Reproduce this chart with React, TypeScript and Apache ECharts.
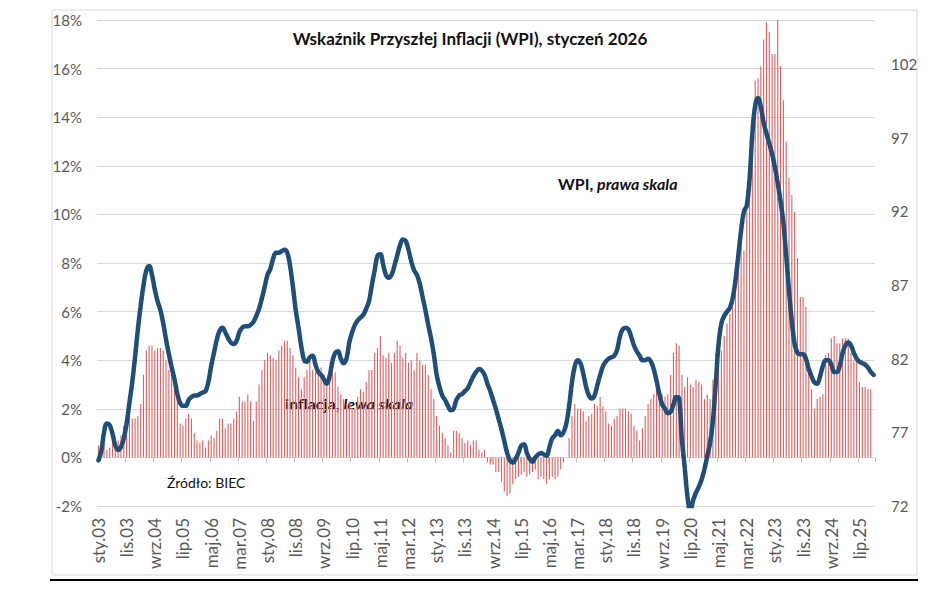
import { useEffect, useRef } from 'react';
import * as echarts from 'echarts';

// miesiące (etykiety osi X budowane z nich)
const MONTHS = ['sty', 'lut', 'mar', 'kwi', 'maj', 'cze', 'lip', 'sie', 'wrz', 'paź', 'lis', 'gru'];
const FIRST_YEAR = 2003;
const LAST_YEAR = 2025;

// inflacja CPI r/r, % (lewa skala), sty.03 - gru.25
const inflation = [
  0.5, 0.5, 0.6, 0.3, 0.4, 0.8, 0.8, 0.7, 0.9, 1.3, 1.6, 1.7, // 2003
  1.6, 1.6, 1.7, 2.2, 3.4, 4.4, 4.6, 4.6, 4.4, 4.5, 4.5, 4.4, // 2004
  4.0, 3.6, 3.4, 3.0, 2.5, 1.4, 1.3, 1.6, 1.8, 1.6, 1.0, 0.7, // 2005
  0.6, 0.7, 0.4, 0.7, 0.9, 0.8, 1.1, 1.6, 1.6, 1.2, 1.4, 1.4, // 2006
  1.6, 1.9, 2.5, 2.3, 2.3, 2.6, 2.3, 1.5, 2.3, 3.0, 3.6, 4.0, // 2007
  4.3, 4.2, 4.1, 4.0, 4.4, 4.6, 4.8, 4.8, 4.5, 4.2, 3.7, 3.3, // 2008
  2.8, 3.3, 3.6, 4.0, 3.6, 3.5, 3.6, 3.7, 3.4, 3.1, 3.3, 3.5, // 2009
  3.5, 2.9, 2.6, 2.4, 2.2, 2.3, 2.0, 2.0, 2.5, 2.8, 2.7, 3.1, // 2010
  3.6, 3.6, 4.3, 4.5, 5.0, 4.2, 4.1, 4.3, 3.9, 4.3, 4.8, 4.6, // 2011
  4.1, 4.3, 3.9, 4.0, 3.6, 4.3, 4.0, 3.8, 3.8, 3.4, 2.8, 2.4, // 2012
  1.7, 1.3, 1.0, 0.8, 0.5, 0.2, 1.1, 1.1, 1.0, 0.8, 0.6, 0.7, // 2013
  0.5, 0.7, 0.7, 0.3, 0.2, 0.3, -0.2, -0.3, -0.3, -0.6, -0.6, -1.0, // 2014
  -1.4, -1.6, -1.5, -1.1, -0.9, -0.8, -0.7, -0.6, -0.8, -0.7, -0.6, -0.5, // 2015
  -0.9, -0.8, -0.9, -1.1, -0.9, -0.8, -0.9, -0.8, -0.5, -0.2, 0.0, 0.8, // 2016
  1.7, 2.2, 2.0, 2.0, 1.9, 1.5, 1.7, 1.8, 2.2, 2.1, 2.5, 2.1, // 2017
  1.9, 1.4, 1.3, 1.6, 1.7, 2.0, 2.0, 2.0, 1.9, 1.8, 1.3, 1.1, // 2018
  0.7, 1.2, 1.7, 2.2, 2.4, 2.6, 2.9, 2.9, 2.6, 2.5, 2.6, 3.4, // 2019
  4.3, 4.7, 4.6, 3.4, 2.9, 3.3, 3.0, 2.9, 3.2, 3.1, 3.0, 2.4, // 2020
  2.6, 2.4, 3.2, 4.3, 4.7, 4.4, 5.0, 5.5, 5.9, 6.8, 7.8, 8.6, // 2021
  9.4, 8.5, 11.0, 12.4, 13.9, 15.5, 15.6, 16.1, 17.2, 17.9, 17.5, 16.6, // 2022
  16.6, 18.4, 16.1, 14.7, 13.0, 11.5, 10.8, 10.1, 8.2, 6.6, 6.6, 6.2, // 2023
  3.7, 2.8, 2.0, 2.4, 2.5, 2.6, 4.2, 4.3, 4.9, 5.0, 4.7, 4.7, // 2024
  4.9, 4.9, 4.9, 4.3, 4.0, 4.1, 3.1, 2.9, 2.9, 2.8, 2.8, null, // 2025
];

// WPI (prawa skala)
const wpi = [
  75.1, 75.7, 77.0, 77.6, 77.5, 76.9, 76.1, 75.8, 76.0, 76.6, 77.6, 79.0, // 2003
  80.4, 82.1, 84.0, 85.6, 87.0, 88.0, 88.3, 87.7, 86.7, 85.9, 85.3, 84.4, // 2004
  83.3, 82.3, 81.4, 80.6, 79.6, 79.0, 78.8, 78.8, 79.2, 79.4, 79.5, 79.5, // 2005
  79.6, 79.7, 79.8, 80.4, 81.5, 82.4, 83.3, 83.9, 84.1, 83.8, 83.4, 83.1, // 2006
  83.0, 83.2, 83.8, 84.1, 84.2, 84.2, 84.3, 84.5, 84.9, 85.4, 86.1, 86.9, // 2007
  87.7, 88.1, 88.8, 89.2, 89.2, 89.3, 89.4, 89.2, 88.3, 86.9, 85.3, 84.1, // 2008
  82.8, 81.9, 81.8, 82.1, 82.2, 81.6, 81.1, 80.9, 80.6, 80.3, 80.8, 81.8, // 2009
  82.4, 82.5, 82.0, 81.7, 82.0, 83.1, 83.8, 84.3, 84.6, 84.8, 85.0, 85.4, // 2010
  85.9, 87.0, 88.0, 89.0, 89.1, 88.4, 87.7, 87.5, 87.7, 88.3, 89.0, 89.7, // 2011
  90.1, 90.0, 89.4, 88.6, 88.0, 87.7, 87.1, 86.2, 85.3, 84.3, 83.4, 82.3, // 2012
  80.9, 80.1, 79.5, 79.2, 78.8, 78.5, 78.6, 79.2, 79.5, 79.6, 79.8, 80.0, // 2013
  80.4, 80.8, 81.1, 81.3, 81.2, 80.9, 80.3, 79.8, 79.2, 78.6, 77.9, 77.2, // 2014
  76.4, 75.6, 75.1, 74.95, 75.2, 75.6, 76.1, 76.2, 75.6, 75.2, 75.0, 75.3, // 2015
  75.5, 75.6, 75.5, 75.4, 76.0, 76.6, 76.8, 77.1, 76.8, 77.0, 77.6, 78.8, // 2016
  80.4, 81.5, 81.9, 81.7, 81.0, 80.1, 79.5, 79.3, 79.5, 80.2, 80.9, 81.5, // 2017
  81.8, 82.0, 82.1, 82.2, 82.6, 83.5, 84.0, 84.1, 84.0, 83.5, 82.9, 82.5, // 2018
  82.2, 81.9, 81.9, 82.0, 81.8, 81.3, 80.5, 79.6, 78.9, 78.6, 78.3, 78.4, // 2019
  78.9, 79.4, 79.3, 76.5, 74.6, 72.6, 71.6, 72.4, 72.9, 73.3, 73.8, 74.5, // 2020
  75.4, 76.3, 77.8, 80.3, 83.0, 84.4, 84.9, 85.2, 85.45, 86.1, 87.3, 89.0, // 2021
  90.7, 92.0, 92.4, 94.2, 97.3, 99.2, 99.7, 99.1, 98.0, 97.3, 96.6, 95.9, // 2022
  95.0, 93.9, 92.7, 91.2, 89.0, 86.6, 84.5, 83.0, 82.4, 82.3, 82.3, 82.0, // 2023
  81.3, 80.8, 80.4, 80.3, 80.8, 81.5, 81.9, 81.9, 81.6, 81.1, 81.1, 81.5, // 2024
  82.4, 82.9, 83.1, 82.9, 82.4, 82.0, 81.8, 81.7, 81.6, 81.4, 81.1, 80.9, // 2025
];

const categories: string[] = [];
for (let y = FIRST_YEAR; y <= LAST_YEAR; y++) {
  MONTHS.forEach((m) => categories.push(`${m}.${String(y).slice(2)}`));
}

const FONT = 'Lato';
const AXIS_GRAY = '#595959';
const GRID_GRAY = '#d9d9d9';
const INK = '#111';

export default function App() {
  const ref = useRef<HTMLDivElement>(null);

  useEffect(() => {
    if (!ref.current) return;
    const chart = echarts.init(ref.current, undefined, { renderer: 'svg' });

    const note = (x: number, y: number, plain: string, italic: string, size: number) => ({
      type: 'text',
      x,
      y,
      style: {
        text: `{a|${plain}}{b|${italic}}`,
        verticalAlign: 'middle',
        rich: {
          a: { fontFamily: FONT, fontWeight: 'bold', fontSize: size, fill: INK },
          b: { fontFamily: FONT, fontWeight: 'bold', fontStyle: 'italic', fontSize: size, fill: INK },
        },
      },
    });

    const option: any = {
      animation: false,
      backgroundColor: '#fff',
      textStyle: { fontFamily: FONT },
      grid: { left: 97, top: 20, width: 778, height: 486, containLabel: false },
      xAxis: [
        {
          type: 'category',
          data: categories,
          axisLine: { onZero: true, onZeroAxisIndex: 0, lineStyle: { color: GRID_GRAY, width: 1 } },
          axisTick: { show: true, interval: 9, length: 5, lineStyle: { color: '#bfbfbf' } },
          axisLabel: { show: false },
          splitLine: { show: false },
        },
        {
          type: 'category',
          data: categories,
          position: 'bottom',
          axisLine: { show: false, onZero: false },
          axisTick: { show: false },
          axisLabel: { interval: 9, rotate: 90, margin: 12, color: AXIS_GRAY, fontSize: 17, fontFamily: FONT },
          splitLine: { show: false },
        },
      ],
      yAxis: [
        {
          type: 'value',
          min: -2,
          max: 18,
          interval: 2,
          axisLine: { show: false },
          axisTick: { show: false },
          axisLabel: { formatter: '{value}%', color: AXIS_GRAY, fontSize: 15, margin: 15, fontFamily: FONT },
          splitLine: { lineStyle: { color: GRID_GRAY, width: 1 } },
        },
        {
          type: 'value',
          position: 'right',
          min: 72,
          max: 105,
          interval: 5,
          axisLine: { show: false },
          axisTick: { show: false },
          axisLabel: { color: AXIS_GRAY, fontSize: 15, margin: 16, showMaxLabel: false, fontFamily: FONT },
          splitLine: { show: false },
        },
      ],
      series: [
        {
          name: 'inflacja',
          type: 'bar',
          xAxisIndex: 0,
          yAxisIndex: 0,
          data: inflation,
          barWidth: 1.1,
          itemStyle: { color: '#dc6060' },
          clip: true,
        },
        {
          name: 'WPI',
          type: 'line',
          xAxisIndex: 0,
          yAxisIndex: 1,
          data: wpi,
          smooth: 0.4,
          showSymbol: false,
          clip: true,
          lineStyle: { color: '#1f4e79', width: 4.5, cap: 'round', join: 'round' },
        },
      ],
      graphic: [
        {
          type: 'rect',
          z: -10,
          silent: true,
          shape: { x: 52, y: 10, width: 865, height: 565 },
          style: { fill: 'none', stroke: GRID_GRAY, lineWidth: 1 },
        },
        {
          type: 'line',
          silent: true,
          shape: { x1: 50, y1: 580, x2: 918, y2: 580 },
          style: { stroke: '#000', lineWidth: 2 },
        },
        {
          type: 'text',
          x: 470,
          y: 38,
          style: {
            text: 'Wskaźnik Przyszłej Inflacji (WPI), styczeń 2026',
            fontFamily: FONT,
            fontWeight: 'bold',
            fontSize: 17,
            fill: INK,
            align: 'center',
            verticalAlign: 'middle',
          },
        },
        note(558, 183, 'WPI, ', 'prawa skala', 16),
        note(285, 403, 'inflacja, ', 'lewa skala', 16),
        {
          type: 'text',
          x: 167,
          y: 482,
          style: {
            text: 'Źródło: BIEC',
            fontFamily: FONT,
            fontSize: 14,
            fill: INK,
            verticalAlign: 'middle',
          },
        },
      ],
    };

    chart.setOption(option);
    return () => chart.dispose();
  }, []);

  return <div ref={ref} style={{ position: 'absolute', left: 0, top: 0, width: 948, height: 592 }} />;
}
